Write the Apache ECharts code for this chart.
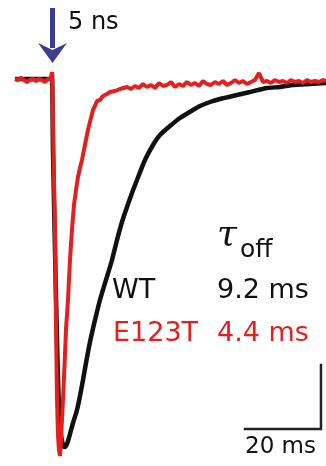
<!DOCTYPE html>
<html>
<head>
<meta charset="utf-8">
<script src="https://cdn.jsdelivr.net/npm/echarts@6/dist/echarts.min.js"></script>
<style>
html,body{margin:0;padding:0;background:#fff;}
#c{width:326px;height:466px;}
</style>
</head>
<body>
<div id="c"></div>
<script>
// Time (ms, flash at 0) and current (arbitrary units, baseline 0, inward = negative)
var redT = [-9.74,-8.95,-8.16,-7.37,-6.58,-5.79,-5.00,-4.21,-3.42,-2.63,-1.84,-1.05,-0.26,0.00,0.26,0.53,0.79,1.05,1.32,1.58,1.84,2.11,2.37,2.63,2.89,3.42,3.68,4.21,4.74,5.26,5.79,6.32,6.84,7.37,7.89,8.68,9.47,10.26,10.79,11.32,11.84,12.63,13.42,14.47,15.26,16.58,17.89,19.74,
  20.79,21.84,22.89,23.95,25.00,26.05,27.11,28.16,29.21,30.26,31.32,32.37,33.42,34.47,35.53,36.58,37.63,38.68,39.74,40.79,41.84,42.89,43.95,45.00,46.05,47.11,48.16,49.21,50.26,51.32,52.37,53.42,54.47,55.53,56.58,57.63,58.68,59.74,60.79,61.84,62.89,63.95,65.00,66.05,67.11,68.16,69.21,70.26,71.32,72.11];
var redI = [1,0,2,0,-2,0,1,-1,1,0,-2,1,1,8,-40,-100,-150,-240,-320,-355,-370,-376,-360,-340,-320,-275,-250,-220,-180,-150,-125,-110,-97,-88,-80,-65,-50,-38,-30,-26,-21,-20,-16,-14,-12,-11,-9,-7,
  -9,-6,-8,-4,-7,-5,-8,-3,-6,-5,-2,-7,-4,-6,-2,-5,-3,-6,-1,-4,-5,-2,-4,-1,-5,-3,0,-3,-1,-4,-2,0,7,-2,-1,-3,0,-2,-1,-3,0,-2,-1,-3,0,-2,-1,-2,0,-1];
var blackT = [-9.74,-5.00,-0.26,0.00,0.26,0.79,1.32,1.84,2.37,2.89,3.16,3.42,3.95,4.74,5.53,6.58,7.37,8.16,8.95,10.00,11.32,12.63,14.21,15.79,17.11,18.42,19.74,21.05,22.37,24.47,26.58,28.42,31.05,33.68,37.11,38.95,41.58,44.21,48.68,52.11,56.58,60.00,63.42,67.89,72.11];
var blackI = [1,1,1,6,-70,-170,-260,-330,-355,-365,-367,-367,-364,-354,-343,-330,-316,-300,-283,-262,-240,-220,-200,-180,-160,-142,-127,-113,-100,-80,-65,-55,-46,-38,-30,-26,-22,-19,-15,-12,-8,-7,-5,-4,-3];
var scaleBarT = [50.79,70.79,70.79];
var scaleBarI = [-349,-349,-285];
var labels = {flash:'5 ns', tau:'τ', tauSub:'off', wt:'WT', wtTau:'9.2 ms', mut:'E123T', mutTau:'4.4 ms', bar:'20 ms'};

function pairs(a,b){return a.map(function(v,i){return [v,b[i]];});}
var RED = '#e3201f';
var chart = echarts.init(document.getElementById('c'), null, {renderer:'canvas'});
var F = '"DejaVu Sans", Arial, sans-serif';
chart.setOption({
  animation:false,
  backgroundColor:'#fff',
  grid:{left:0,right:0,top:0,bottom:0},
  xAxis:{type:'value',min:-13.68,max:72.11,show:false},
  yAxis:{type:'value',min:-386,max:80,show:false},
  series:[
    {type:'line',data:pairs(blackT,blackI),showSymbol:false,smooth:0.2,lineStyle:{color:'#111',width:4.5},z:2},
    {type:'line',data:pairs(redT,redI),showSymbol:false,lineStyle:{color:RED,width:4},z:3},
    {type:'line',data:pairs(scaleBarT,scaleBarI),showSymbol:false,lineStyle:{color:'#222',width:2.5,cap:'square',join:'miter'},z:1}
  ],
  graphic:[
    {type:'rect',shape:{x:50,y:8,width:5,height:40},style:{fill:'#3c3c94'}},
    {type:'polygon',shape:{points:[[38,43],[52.5,50],[67,43],[52.5,63]]},style:{fill:'#3c3c94'}},
    {type:'text',x:68,y:23,style:{text:labels.flash,font:'24px '+F,fill:'#111',align:'left',verticalAlign:'middle'}},
    {type:'text',x:217,y:236,style:{text:labels.tau,font:'italic 36px "DejaVu Serif", "Liberation Serif", serif',fill:'#111',align:'left',verticalAlign:'middle'}},
    {type:'text',x:240,y:250,style:{text:labels.tauSub,font:'25px '+F,fill:'#111',align:'left',verticalAlign:'middle'}},
    {type:'text',x:112,y:291,style:{text:labels.wt,font:'27px '+F,fill:'#111',align:'left',verticalAlign:'middle'}},
    {type:'text',x:217,y:291,style:{text:labels.wtTau,font:'27px '+F,fill:'#111',align:'left',verticalAlign:'middle'}},
    {type:'text',x:113,y:334,style:{text:labels.mut,font:'27px '+F,fill:RED,align:'left',verticalAlign:'middle'}},
    {type:'text',x:217,y:334,style:{text:labels.mutTau,font:'27px '+F,fill:RED,align:'left',verticalAlign:'middle'}},
    {type:'text',x:245,y:447,style:{text:labels.bar,font:'23px '+F,fill:'#111',align:'left',verticalAlign:'middle'}}
  ]
});
</script>
</body>
</html>
